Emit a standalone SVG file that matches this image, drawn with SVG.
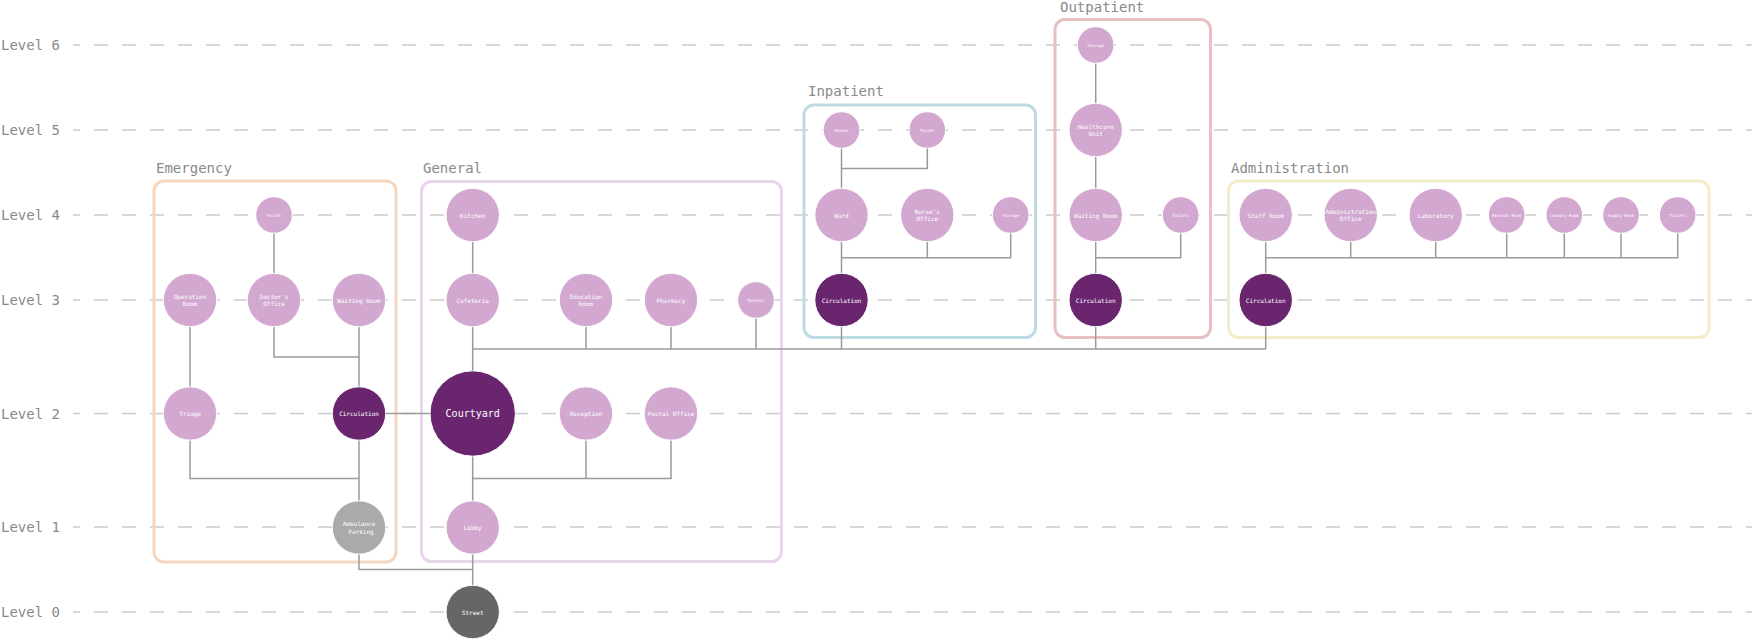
<svg xmlns="http://www.w3.org/2000/svg" width="1752" height="640" viewBox="0 0 1752 640">
<style>
.lvl{stroke:#cccccc;stroke-width:1.5;stroke-dasharray:14 14;stroke-dashoffset:7;fill:none}
.lt{font-family:"DejaVu Sans Mono",monospace;font-size:14px;fill:#8a8a8a}
.gl{font-family:"DejaVu Sans Mono",monospace;font-size:14px;fill:#8a8a8a}
.box{fill:none;stroke-width:3}
.c{stroke:#9a9a9a;stroke-width:1.5;fill:none}
.n{fill:#d3a8d0;stroke:#fff;stroke-width:1}
.d{fill:#69266f;stroke:#fff;stroke-width:1}
.g{fill:#aaaaaa;stroke:#fff;stroke-width:1}
.s{fill:#666666;stroke:#fff;stroke-width:1}
.t{font-family:"DejaVu Sans Mono",monospace;font-size:6px;fill:#fff;text-anchor:middle;dominant-baseline:central}
.ts{font-size:4px}
.tl{font-size:10px}
</style>
<rect width="1752" height="640" fill="#fff"/>
<g id="levels">
<line class="lvl" x1="73" y1="45" x2="1752" y2="45"/>
<line class="lvl" x1="73" y1="130" x2="1752" y2="130"/>
<line class="lvl" x1="73" y1="215" x2="1752" y2="215"/>
<line class="lvl" x1="73" y1="300" x2="1752" y2="300"/>
<line class="lvl" x1="73" y1="413.5" x2="1752" y2="413.5"/>
<line class="lvl" x1="73" y1="527" x2="1752" y2="527"/>
<line class="lvl" x1="73" y1="612" x2="1752" y2="612"/>
<text class="lt" x="1" y="50">Level 6</text>
<text class="lt" x="1" y="135">Level 5</text>
<text class="lt" x="1" y="220">Level 4</text>
<text class="lt" x="1" y="305">Level 3</text>
<text class="lt" x="1" y="418.5">Level 2</text>
<text class="lt" x="1" y="532">Level 1</text>
<text class="lt" x="1" y="617">Level 0</text>
</g>
<g id="groups">
<rect class="box" x="154" y="181" width="242" height="381" rx="10" stroke="#f5d6bf"/>
<text class="gl" x="156" y="173">Emergency</text>
<rect class="box" x="421.5" y="181.5" width="360" height="380" rx="10" stroke="#e8d5eb"/>
<text class="gl" x="423" y="173">General</text>
<rect class="box" x="804" y="105" width="231.5" height="232.5" rx="10" stroke="#bcdbe3"/>
<text class="gl" x="808" y="96">Inpatient</text>
<rect class="box" x="1055" y="19.5" width="155.5" height="318" rx="10" stroke="#e8c0c1"/>
<text class="gl" x="1060" y="12">Outpatient</text>
<rect class="box" x="1228.5" y="181" width="480.5" height="156.5" rx="10" stroke="#f3ecc9"/>
<text class="gl" x="1231" y="173">Administration</text>
</g>
<g id="connectors">
<!-- Emergency -->
<path class="c" d="M274 215V300"/>
<path class="c" d="M274 300V357H359"/>
<path class="c" d="M359 300V527.5"/>
<path class="c" d="M190 300V413.5"/>
<path class="c" d="M190 413.5V478.5H359"/>
<path class="c" d="M359 413.5H472.7"/>
<path class="c" d="M359 527.5V569.5H472.7"/>
<!-- General -->
<path class="c" d="M472.7 215V612"/>
<path class="c" d="M472.7 349H1265.7"/>
<path class="c" d="M586 300V349"/>
<path class="c" d="M671 300V349"/>
<path class="c" d="M756 300V349"/>
<path class="c" d="M472.7 478.5H671V413.5"/>
<path class="c" d="M586 413.5V478.5"/>
<!-- Inpatient -->
<path class="c" d="M841.5 130V349"/>
<path class="c" d="M841.5 168.5H927.3V130"/>
<path class="c" d="M841.5 257.7H1010.7V215"/>
<path class="c" d="M927.3 215V257.7"/>
<!-- Outpatient -->
<path class="c" d="M1095.7 45V349"/>
<path class="c" d="M1095.7 257.7H1180.7V215"/>
<!-- Administration -->
<path class="c" d="M1265.7 215V349"/>
<path class="c" d="M1265.7 257.7H1677.7V215"/>
<path class="c" d="M1350.7 215V257.7"/>
<path class="c" d="M1435.7 215V257.7"/>
<path class="c" d="M1506.7 215V257.7"/>
<path class="c" d="M1564.3 215V257.7"/>
<path class="c" d="M1621 215V257.7"/>
</g>
<g id="emergency-toilet"><circle class="n" cx="274" cy="215" r="18.3"/><text class="t ts" x="274" y="215">Toilet</text></g>
<g id="emergency-operation-room"><circle class="n" cx="190" cy="300" r="26.7"/><text class="t" x="190" y="296.3">Operation</text><text class="t" x="190" y="303.7">Room</text></g>
<g id="emergency-doctors-office"><circle class="n" cx="274" cy="300" r="26.7"/><text class="t" x="274" y="296.3">Doctor's</text><text class="t" x="274" y="303.7">Office</text></g>
<g id="emergency-waiting-room"><circle class="n" cx="359" cy="300" r="26.7"/><text class="t" x="359" y="300">Waiting Room</text></g>
<g id="emergency-triage"><circle class="n" cx="190" cy="413.5" r="26.7"/><text class="t" x="190" y="413.5">Triage</text></g>
<g id="emergency-circulation"><circle class="d" cx="359" cy="413.5" r="26.7"/><text class="t" x="359" y="413.5">Circulation</text></g>
<g id="ambulance-parking"><circle class="g" cx="359" cy="527.5" r="26.7"/><text class="t" x="359" y="523.8">Ambulance</text><text class="t" x="361" y="531.2">Parking</text></g>
<g id="general-kitchen"><circle class="n" cx="472.7" cy="215" r="26.7"/><text class="t" x="472.7" y="215">Kitchen</text></g>
<g id="general-cafeteria"><circle class="n" cx="472.7" cy="300" r="26.7"/><text class="t" x="472.7" y="300">Cafeteria</text></g>
<g id="general-education-room"><circle class="n" cx="586" cy="300" r="26.7"/><text class="t" x="586" y="296.3">Education</text><text class="t" x="586" y="303.7">Room</text></g>
<g id="general-pharmacy"><circle class="n" cx="671" cy="300" r="26.7"/><text class="t" x="671" y="300">Pharmacy</text></g>
<g id="general-toilets"><circle class="n" cx="756" cy="300" r="18.3"/><text class="t ts" x="756" y="300">Toilets</text></g>
<g id="courtyard"><circle class="d" cx="472.7" cy="413.5" r="42.7"/><text class="t tl" x="472.7" y="413.5">Courtyard</text></g>
<g id="general-reception"><circle class="n" cx="586" cy="413.5" r="26.7"/><text class="t" x="586" y="413.5">Reception</text></g>
<g id="general-postal-office"><circle class="n" cx="671" cy="413.5" r="26.7"/><text class="t" x="671" y="413.5">Postal Office</text></g>
<g id="general-lobby"><circle class="n" cx="472.7" cy="527.5" r="26.7"/><text class="t" x="472.7" y="527.5">Lobby</text></g>
<g id="street"><circle class="s" cx="472.7" cy="612" r="26.7"/><text class="t" x="472.7" y="612">Street</text></g>
<g id="inpatient-shower"><circle class="n" cx="841.5" cy="130" r="18.3"/><text class="t ts" x="841.5" y="130">Shower</text></g>
<g id="inpatient-toilet"><circle class="n" cx="927.3" cy="130" r="18.3"/><text class="t ts" x="927.3" y="130">Toilet</text></g>
<g id="inpatient-ward"><circle class="n" cx="841.5" cy="215" r="26.7"/><text class="t" x="841.5" y="215">Ward</text></g>
<g id="inpatient-nurses-office"><circle class="n" cx="927.3" cy="215" r="26.7"/><text class="t" x="927.3" y="211.3">Nurse's</text><text class="t" x="927.3" y="218.7">Office</text></g>
<g id="inpatient-storage"><circle class="n" cx="1010.7" cy="215" r="18.3"/><text class="t ts" x="1010.7" y="215">Storage</text></g>
<g id="inpatient-circulation"><circle class="d" cx="841.5" cy="300" r="26.7"/><text class="t" x="841.5" y="300">Circulation</text></g>
<g id="outpatient-storage"><circle class="n" cx="1095.7" cy="45" r="18.3"/><text class="t ts" x="1095.7" y="45">Storage</text></g>
<g id="outpatient-healthcare-unit"><circle class="n" cx="1095.7" cy="130" r="26.7"/><text class="t" x="1095.7" y="126.3">Healthcare</text><text class="t" x="1095.7" y="133.7">Unit</text></g>
<g id="outpatient-waiting-room"><circle class="n" cx="1095.7" cy="215" r="26.7"/><text class="t" x="1095.7" y="215">Waiting Room</text></g>
<g id="outpatient-toilets"><circle class="n" cx="1180.7" cy="215" r="18.3"/><text class="t ts" x="1180.7" y="215">Toilets</text></g>
<g id="outpatient-circulation"><circle class="d" cx="1095.7" cy="300" r="26.7"/><text class="t" x="1095.7" y="300">Circulation</text></g>
<g id="admin-staff-room"><circle class="n" cx="1265.7" cy="215" r="26.7"/><text class="t" x="1265.7" y="215">Staff Room</text></g>
<g id="admin-administration-office"><circle class="n" cx="1350.7" cy="215" r="26.7"/><text class="t" x="1350.7" y="211.3">Administration</text><text class="t" x="1350.7" y="218.7">Office</text></g>
<g id="admin-laboratory"><circle class="n" cx="1435.7" cy="215" r="26.7"/><text class="t" x="1435.7" y="215">Laboratory</text></g>
<g id="admin-records-room"><circle class="n" cx="1506.7" cy="215" r="18.3"/><text class="t ts" x="1506.7" y="215">Records Room</text></g>
<g id="admin-laundry-room"><circle class="n" cx="1564.3" cy="215" r="18.3"/><text class="t ts" x="1564.3" y="215">Laundry Room</text></g>
<g id="admin-supply-room"><circle class="n" cx="1621" cy="215" r="18.3"/><text class="t ts" x="1621" y="215">Supply Room</text></g>
<g id="admin-toilets"><circle class="n" cx="1677.7" cy="215" r="18.3"/><text class="t ts" x="1677.7" y="215">Toilets</text></g>
<g id="admin-circulation"><circle class="d" cx="1265.7" cy="300" r="26.7"/><text class="t" x="1265.7" y="300">Circulation</text></g>
</svg>
